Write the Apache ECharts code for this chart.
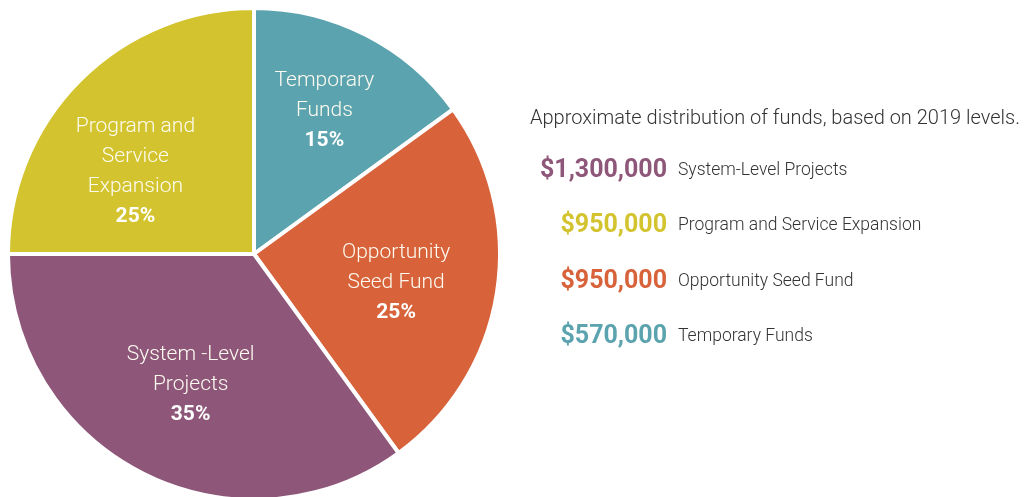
<!DOCTYPE html>
<html><head><meta charset="utf-8">
<script src="https://cdn.jsdelivr.net/npm/echarts@6/dist/echarts.min.js"></script>
<style>html,body{margin:0;padding:0;background:#fff}#c{width:1029px;height:497px}</style>
</head><body><div id="c"></div>
<script>
// Pie slices, clockwise from 12 o'clock
const sliceNames = ['Temporary Funds', 'Opportunity Seed Fund', 'System-Level Projects', 'Program and Service Expansion'];
const sliceLabels = ['Temporary\nFunds', 'Opportunity\nSeed Fund', 'System -Level\nProjects', 'Program and\nService\nExpansion'];
const slicePercents = [15, 25, 35, 25];
const sliceColors = ['#5BA3AE', '#D8623A', '#8E5679', '#D3C42F'];
// Legend list (top to bottom)
const legendNames = ['System-Level Projects', 'Program and Service Expansion', 'Opportunity Seed Fund', 'Temporary Funds'];
const legendAmounts = ['$1,300,000', '$950,000', '$950,000', '$570,000'];
const titleText = 'Approximate distribution of funds, based on 2019 levels.';

// label nudges (layout only), per slice in the order above
const labelNudge = [[0, -5], [-11, 5], [7, -7], [-9, 27]];

const chart = echarts.init(document.getElementById('c'));
const pieData = sliceNames.map((n, i) => ({ name: n, value: slicePercents[i], itemStyle: { color: sliceColors[i] } }));
const labelData = sliceNames.map((n, i) => ({
  name: n, value: slicePercents[i],
  label: { offset: labelNudge[i], formatter: '{n|' + sliceLabels[i].split('\n').join('}\n{n|') + '}\n{p|' + slicePercents[i] + '%}' }
}));

const titles = [{ text: titleText, left: 525, top: 104, textStyle: { fontFamily: 'Roboto', fontWeight: 300, fontSize: 20, color: '#333' } }];
legendNames.forEach((n, i) => {
  const col = sliceColors[sliceNames.indexOf(n)];
  const rowTop = 155.5 + i * 55.4;
  titles.push({ text: legendAmounts[i], right: 1029 - 667, top: rowTop, padding: 0, textAlign: 'left',
    textStyle: { color: col, fontFamily: 'Roboto', fontWeight: 'bold', fontSize: 25, lineHeight: 30 } });
  titles.push({ text: n, left: 678, top: rowTop, padding: 0,
    textStyle: { color: '#333', fontFamily: 'Roboto', fontWeight: 300, fontSize: 17.5, lineHeight: 30 } });
});

chart.setOption({
  animation: false,
  title: titles,
  series: [
    {
      type: 'pie', center: [254, 254], radius: [0, 246], startAngle: 90, clockwise: true, silent: true,
      data: pieData, label: { show: false }, labelLine: { show: false },
      itemStyle: { borderColor: '#fff', borderWidth: 4 }
    },
    {
      type: 'pie', center: [254, 254], radius: [0, 304], startAngle: 90, clockwise: true, silent: true,
      data: labelData, itemStyle: { color: 'rgba(0,0,0,0)' },
      label: {
        show: true, position: 'inside', color: '#fff', lineHeight: 30,
        rich: {
          n: { fontFamily: 'Roboto', fontWeight: 300, fontSize: 21, color: '#fdfbf0', lineHeight: 30 },
          p: { fontFamily: 'Roboto', fontWeight: 'bold', fontSize: 21, color: '#fff', lineHeight: 30 }
        }
      },
      labelLine: { show: false }
    }
  ]
});
</script></body></html>
